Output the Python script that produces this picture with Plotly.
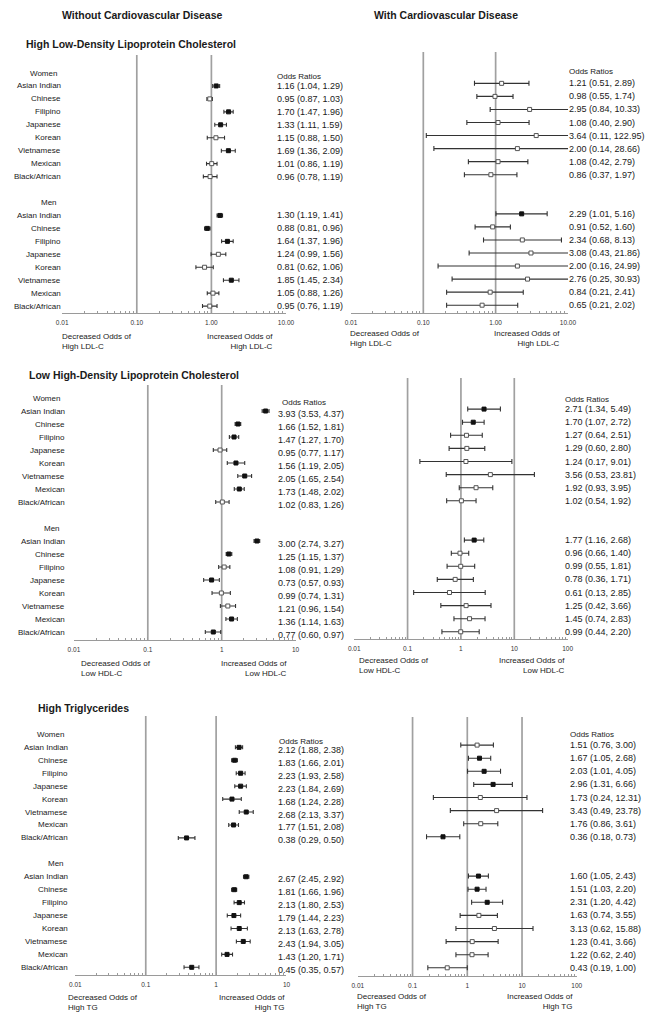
import math
import plotly.graph_objects as go

W, H = 661, 1021

# ---------------- data ----------------
groups = ["Asian Indian", "Chinese", "Filipino", "Japanese", "Korean",
          "Vietnamese", "Mexican", "Black/African"]
sexes = ["Women", "Men"]

# each list: 8 women values followed by 8 men values
ldl_no_or = [1.16, 0.95, 1.70, 1.33, 1.15, 1.69, 1.01, 0.96, 1.30, 0.88, 1.64, 1.24, 0.81, 1.85, 1.05, 0.95]
ldl_no_lo = [1.04, 0.87, 1.47, 1.11, 0.88, 1.36, 0.86, 0.78, 1.19, 0.81, 1.37, 0.99, 0.62, 1.45, 0.88, 0.76]
ldl_no_hi = [1.29, 1.03, 1.96, 1.59, 1.50, 2.09, 1.19, 1.19, 1.41, 0.96, 1.96, 1.56, 1.06, 2.34, 1.26, 1.19]

ldl_cvd_or = [1.21, 0.98, 2.95, 1.08, 3.64, 2.00, 1.08, 0.86, 2.29, 0.91, 2.34, 3.08, 2.00, 2.76, 0.84, 0.65]
ldl_cvd_lo = [0.51, 0.55, 0.84, 0.40, 0.11, 0.14, 0.42, 0.37, 1.01, 0.52, 0.68, 0.43, 0.16, 0.25, 0.21, 0.21]
ldl_cvd_hi = [2.89, 1.74, 10.33, 2.90, 122.95, 28.66, 2.79, 1.97, 5.16, 1.60, 8.13, 21.86, 24.99, 30.93, 2.41, 2.02]

hdl_no_or = [3.93, 1.66, 1.47, 0.95, 1.56, 2.05, 1.73, 1.02, 3.00, 1.25, 1.08, 0.73, 0.99, 1.21, 1.36, 0.77]
hdl_no_lo = [3.53, 1.52, 1.27, 0.77, 1.19, 1.65, 1.48, 0.83, 2.74, 1.15, 0.91, 0.57, 0.74, 0.96, 1.14, 0.60]
hdl_no_hi = [4.37, 1.81, 1.70, 1.17, 2.05, 2.54, 2.02, 1.26, 3.27, 1.37, 1.29, 0.93, 1.31, 1.54, 1.63, 0.97]

hdl_cvd_or = [2.71, 1.70, 1.27, 1.29, 1.24, 3.56, 1.92, 1.02, 1.77, 0.96, 0.99, 0.78, 0.61, 1.25, 1.45, 0.99]
hdl_cvd_lo = [1.34, 1.07, 0.64, 0.60, 0.17, 0.53, 0.93, 0.54, 1.16, 0.66, 0.55, 0.36, 0.13, 0.42, 0.74, 0.44]
hdl_cvd_hi = [5.49, 2.72, 2.51, 2.80, 9.01, 23.81, 3.95, 1.92, 2.68, 1.40, 1.81, 1.71, 2.85, 3.66, 2.83, 2.20]

tg_no_or = [2.12, 1.83, 2.23, 2.23, 1.68, 2.68, 1.77, 0.38, 2.67, 1.81, 2.13, 1.79, 2.13, 2.43, 1.43, 0.45]
tg_no_lo = [1.88, 1.66, 1.93, 1.84, 1.24, 2.13, 1.51, 0.29, 2.45, 1.66, 1.80, 1.44, 1.63, 1.94, 1.20, 0.35]
tg_no_hi = [2.38, 2.01, 2.58, 2.69, 2.28, 3.37, 2.08, 0.50, 2.92, 1.96, 2.53, 2.23, 2.78, 3.05, 1.71, 0.57]

tg_cvd_or = [1.51, 1.67, 2.03, 2.96, 1.73, 3.43, 1.76, 0.36, 1.60, 1.51, 2.31, 1.63, 3.13, 1.23, 1.22, 0.43]
tg_cvd_lo = [0.76, 1.05, 1.01, 1.31, 0.24, 0.49, 0.86, 0.18, 1.05, 1.03, 1.20, 0.74, 0.62, 0.41, 0.62, 0.19]
tg_cvd_hi = [3.00, 2.68, 4.05, 6.66, 12.31, 23.78, 3.61, 0.73, 2.43, 2.20, 4.42, 3.55, 15.88, 3.66, 2.40, 1.00]

ldl_tickvals = [0.01, 0.1, 1, 10]
ldl_ticktext = ["0.01", "0.10", "1.00", "10.00"]
short_tickvals = [0.01, 0.1, 1, 10]
short_ticktext = ["0.01", "0.1", "1", "10"]
long_tickvals = [0.01, 0.1, 1, 10, 100]
long_ticktext = ["0.01", "0.1", "1", "10", "100"]

column_titles = ["Without Cardiovascular Disease", "With Cardiovascular Disease"]
section_titles = ["High Low-Density Lipoprotein Cholesterol",
                  "Low High-Density Lipoprotein Cholesterol",
                  "High Triglycerides"]
outcome_short = ["High LDL-C", "Low HDL-C", "High TG"]

# ---------------- layout geometry (pixels) ----------------
FONT = "Liberation Sans, Arial, sans-serif"
TXT = "#1a1a1a"
PAD = 2.5  # annotation inner padding compensation

panels = [
    dict(sec=0, left=True, data=(ldl_no_or, ldl_no_lo, ldl_no_hi), tv=ldl_tickvals, tt=ldl_ticktext,
         xmax=10, refs=[0.1, 1], x0=57.5, x1=286.5, top=55, axis=313, row0=73, pitch=12.95,
         lab_r=55.5, hdr_r=51.5, val_x=278, vshift=0, orx=278, ory=76, dec=(58, 341), inc=(273, 341)),
    dict(sec=0, left=False, data=(ldl_cvd_or, ldl_cvd_lo, ldl_cvd_hi), tv=ldl_tickvals, tt=ldl_ticktext,
         xmax=10, refs=[0.1, 1], x0=353, x1=575, top=52, axis=313, row0=70.3, pitch=13.05,
         val_x=577, vshift=0, orx=577, ory=72, dec=(352, 338), inc=(566, 338)),
    dict(sec=1, left=True, data=(hdl_no_or, hdl_no_lo, hdl_no_hi), tv=short_tickvals, tt=short_ticktext,
         xmax=10, refs=[0.1, 1], x0=69.5, x1=296.3, top=385, axis=640, row0=398, pitch=13.0,
         lab_r=60, hdr_r=55, val_x=279, vshift=-2.5, orx=283, ory=402, dec=(77, 668), inc=(287, 668)),
    dict(sec=1, left=False, data=(hdl_cvd_or, hdl_cvd_lo, hdl_cvd_hi), tv=long_tickvals, tt=long_ticktext,
         xmax=100, refs=[0.1, 1, 10], x0=356.3, x1=574.7, top=378, axis=639, row0=396, pitch=13.1,
         val_x=572, vshift=0, orx=572, ory=399, dec=(362, 665), inc=(572, 665)),
    dict(sec=2, left=True, data=(tg_no_or, tg_no_lo, tg_no_hi), tv=short_tickvals, tt=short_ticktext,
         xmax=10, refs=[0.1, 1], x0=71, x1=287, top=716, axis=975, row0=734.4, pitch=12.94,
         lab_r=63, hdr_r=59, val_x=279, vshift=-2.5, orx=280, ory=741, dec=(64, 1002), inc=(285, 1002)),
    dict(sec=2, left=False, data=(tg_cvd_or, tg_cvd_lo, tg_cvd_hi), tv=long_tickvals, tt=long_ticktext,
         xmax=100, refs=[0.1, 1, 10], x0=360, x1=584, top=717, axis=976, row0=732, pitch=13.1,
         val_x=578, vshift=0, orx=578, ory=734, dec=(360, 1001), inc=(580, 1001)),
]


def px(x):
    return x / W


def py(y):
    return 1 - y / H


def row_of(i):
    return i + 1 if i < 8 else i + 3


fig = go.Figure()
annotations = []
shapes = []
layout = {}

for k, p in enumerate(panels, start=1):
    xa = "x" if k == 1 else f"x{k}"
    ya = "y" if k == 1 else f"y{k}"
    ors, los, his = p["data"]
    rows = [row_of(i) for i in range(len(ors))]

    for sig in (True, False):
        idx = [i for i in range(len(ors)) if ((los[i] > 1 or his[i] < 1) == sig)]
        if not idx:
            continue
        fig.add_trace(go.Scatter(
            x=[ors[i] for i in idx], y=[rows[i] for i in idx],
            mode="markers", xaxis=xa, yaxis=ya, showlegend=False, hoverinfo="skip",
            marker=dict(symbol="square", size=4,
                        color="#111111" if sig else "white",
                        line=dict(color="#111111" if sig else "#555555", width=1)),
            error_x=dict(type="data", symmetric=False,
                         array=[his[i] - ors[i] for i in idx],
                         arrayminus=[ors[i] - los[i] for i in idx],
                         color="#333333", thickness=1.1, width=2 if p["left"] else 2.5),
        ))

    minor_vals = [m * 10 ** e for e in range(-2, int(round(math.log10(p["xmax"])))) for m in range(2, 10)]
    layout["xaxis" if k == 1 else f"xaxis{k}"] = dict(
        type="log", range=[-2, math.log10(p["xmax"])],
        domain=[px(p["x0"]), px(p["x1"])], anchor=ya,
        showline=True, linecolor="#9a9a9a", linewidth=1,
        ticks="inside", ticklen=3, tickcolor="#9a9a9a", tickwidth=1,
        tickmode="array", tickvals=p["tv"], ticktext=p["tt"],
        tickfont=dict(size=6.5, color="#333333", family=FONT),
        ticklabelstandoff=3,
        minor=dict(tickmode="array", tickvals=minor_vals, ticks="inside", ticklen=2,
                   tickcolor="#9a9a9a", tickwidth=1),
        showgrid=False, zeroline=False, fixedrange=True,
    )
    bottom_idx = (p["axis"] - p["row0"]) / p["pitch"]
    top_idx = (p["top"] - p["row0"]) / p["pitch"]
    layout["yaxis" if k == 1 else f"yaxis{k}"] = dict(
        domain=[py(p["axis"]), py(p["top"])], anchor=xa,
        range=[bottom_idx, top_idx], visible=False, fixedrange=True,
    )

    for r in p["refs"]:
        shapes.append(dict(type="line", xref=xa, yref=f"{ya} domain", x0=r, x1=r, y0=0, y1=1,
                           line=dict(color="#a0a0a0", width=1.7), layer="below"))

    # odds ratio texts
    for i in range(len(ors)):
        annotations.append(dict(
            xref="paper", yref=ya, x=px(p["val_x"] - PAD), y=rows[i], yshift=p["vshift"],
            xanchor="left", yanchor="middle",
            text=f"{ors[i]:.2f} ({los[i]:.2f}, {his[i]:.2f})", showarrow=False,
            font=dict(size=9, color=TXT, family=FONT)))
    annotations.append(dict(
        xref="paper", yref="paper", x=px(p["orx"] - PAD), y=py(p["ory"]), xanchor="left", yanchor="middle",
        text="Odds Ratios", showarrow=False, font=dict(size=8, color=TXT, family=FONT)))

    if p["left"]:
        for i in range(len(ors)):
            annotations.append(dict(
                xref="paper", yref=ya, x=px(p["lab_r"] + PAD), y=rows[i], xanchor="right", yanchor="middle",
                text=groups[i % 8], showarrow=False, font=dict(size=8, color=TXT, family=FONT)))
        for s, r in zip(sexes, (0, 10)):
            annotations.append(dict(
                xref="paper", yref=ya, x=px(p["hdr_r"] + PAD), y=r, xanchor="right", yanchor="middle",
                text=s, showarrow=False, font=dict(size=8, color=TXT, family=FONT)))

    lbl = outcome_short[p["sec"]]
    annotations.append(dict(
        xref="paper", yref="paper", x=px(p["dec"][0] - PAD), y=py(p["dec"][1]), xanchor="left", yanchor="middle",
        align="left", text=f"Decreased Odds of<br>{lbl}", showarrow=False,
        font=dict(size=8, color=TXT, family=FONT)))
    annotations.append(dict(
        xref="paper", yref="paper", x=px(p["inc"][0] + PAD), y=py(p["inc"][1]), xanchor="right", yanchor="middle",
        align="right", text=f"Increased Odds of<br>{lbl}", showarrow=False,
        font=dict(size=8, color=TXT, family=FONT)))

# column titles
for t, (x, y) in zip(column_titles, [(58, 15), (377, 15)]):
    annotations.append(dict(xref="paper", yref="paper", x=px(x - PAD), y=py(y), xanchor="left", yanchor="middle",
                            text=f"<b>{t}</b>", showarrow=False,
                            font=dict(size=10.5, color=TXT, family=FONT)))
# section titles
for t, (x, y) in zip(section_titles, [(20.5, 44), (24, 375), (33, 708)]):
    annotations.append(dict(xref="paper", yref="paper", x=px(x - PAD), y=py(y), xanchor="left", yanchor="middle",
                            text=f"<b>{t}</b>", showarrow=False,
                            font=dict(size=10.5, color=TXT, family=FONT)))

fig.update_layout(
    width=W, height=H, margin=dict(l=0, r=0, t=0, b=0),
    paper_bgcolor="white", plot_bgcolor="white",
    font=dict(family=FONT, color=TXT),
    showlegend=False, annotations=annotations, shapes=shapes,
    **layout,
)

fig.write_html("out.html", config={"displayModeBar": False},
               post_script="document.body.style.margin='0';document.body.style.overflow='hidden';")
